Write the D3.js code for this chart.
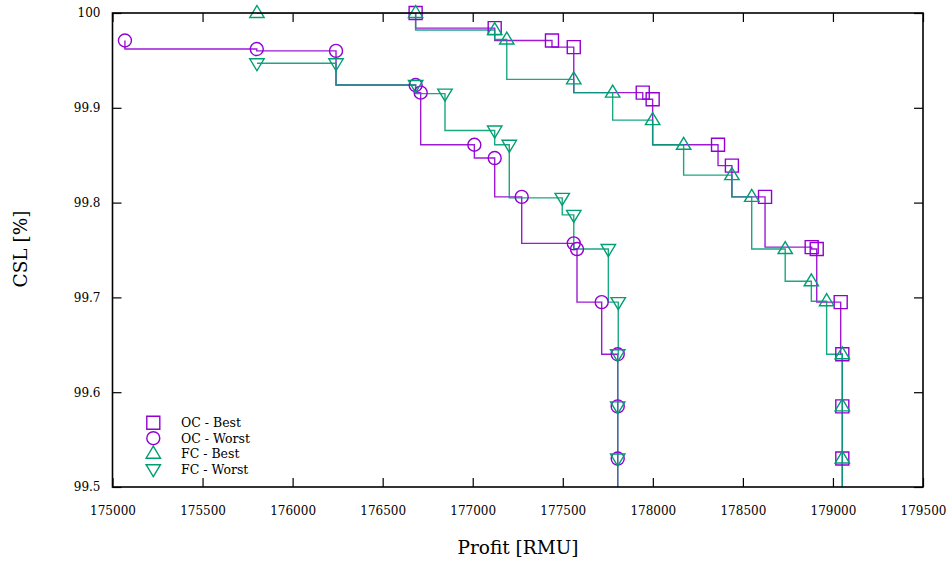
<!DOCTYPE html>
<html>
<head>
<meta charset="utf-8">
<script src="https://cdn.jsdelivr.net/npm/d3@7"></script>
<style>
  html, body { margin: 0; padding: 0; background: #fff; }
  svg text { font-family: "DejaVu Serif", "Liberation Serif", serif; fill: #000; }
</style>
</head>
<body>
<svg id="chart" width="952" height="563"></svg>
<script>
// Pareto fronts: profit vs. cycle service level
const ocBestProfit  = [176683, 177122, 177440, 177561, 177944, 177999, 178362, 178439, 178623, 178882, 178910, 179043, 179052, 179052, 179052, 179052];
const ocBestCSL     = [100.0, 99.984, 99.971, 99.964, 99.916, 99.909, 99.861, 99.839, 99.806, 99.753, 99.751, 99.695, 99.640, 99.585, 99.530, 99.475];

const ocWorstProfit = [175069, 175801, 176241, 176683, 176711, 177009, 177122, 177272, 177561, 177579, 177716, 177805, 177805, 177805, 177805];
const ocWorstCSL    = [99.971, 99.962, 99.960, 99.924, 99.916, 99.861, 99.847, 99.806, 99.757, 99.751, 99.695, 99.640, 99.585, 99.530, 99.475];

const fcBestProfit  = [175802, 176683, 177122, 177189, 177561, 177777, 177999, 178171, 178439, 178549, 178735, 178880, 178965, 179052, 179052, 179052, 179052];
const fcBestCSL     = [100.0, 100.0, 99.982, 99.972, 99.930, 99.916, 99.887, 99.861, 99.829, 99.806, 99.751, 99.717, 99.696, 99.640, 99.585, 99.530, 99.475];

const fcWorstProfit = [175802, 176241, 176683, 176846, 177122, 177203, 177497, 177561, 177753, 177808, 177805, 177805, 177805, 177805];
const fcWorstCSL    = [99.947, 99.947, 99.924, 99.915, 99.876, 99.861, 99.805, 99.787, 99.751, 99.695, 99.640, 99.585, 99.530, 99.475];

const xTicks = [175000, 175500, 176000, 176500, 177000, 177500, 178000, 178500, 179000, 179500];
const yTicks = [99.5, 99.6, 99.7, 99.8, 99.9, 100];
const yTickLabels = ["99.5", "99.6", "99.7", "99.8", "99.9", "100"];

const seriesNames = ["OC - Best", "OC - Worst", "FC - Best", "FC - Worst"];
const purple = "#9400d3", green = "#009e73";

const series = [
  { name: seriesNames[0], xs: ocBestProfit,  ys: ocBestCSL,  color: purple, marker: "square" },
  { name: seriesNames[1], xs: ocWorstProfit, ys: ocWorstCSL, color: purple, marker: "circle" },
  { name: seriesNames[2], xs: fcBestProfit,  ys: fcBestCSL,  color: green,  marker: "up" },
  { name: seriesNames[3], xs: fcWorstProfit, ys: fcWorstCSL, color: green,  marker: "down" }
];

const svg = d3.select("#chart");
const m = { left: 112.5, right: 952 - 923, top: 13, bottom: 563 - 487 };
const W = 952, H = 563;

const x = d3.scaleLinear().domain([175000, 179500]).range([m.left, W - m.right]);
const y = d3.scaleLinear().domain([99.5, 100]).range([H - m.bottom, m.top]);

svg.append("defs").append("clipPath").attr("id", "plotClip")
  .append("rect")
  .attr("x", x.range()[0]).attr("y", y.range()[1])
  .attr("width", x.range()[1] - x.range()[0])
  .attr("height", y.range()[0] - y.range()[1]);

// Axes with inward ticks, mirrored on the opposite sides
const tickLen = 9;
const axBottom = d3.axisBottom(x).tickValues(xTicks).tickSizeInner(-tickLen).tickSizeOuter(0).tickPadding(19).tickFormat(d3.format("d"));
const axTop = d3.axisTop(x).tickValues(xTicks).tickSizeInner(-tickLen).tickSizeOuter(0).tickFormat("");
const axLeft = d3.axisLeft(y).tickValues(yTicks).tickSizeInner(-tickLen).tickSizeOuter(0).tickPadding(12)
  .tickFormat((d, i) => yTickLabels[i]);
const axRight = d3.axisRight(y).tickValues(yTicks).tickSizeInner(-tickLen).tickSizeOuter(0).tickFormat("");

function styleAxis(g) {
  g.select(".domain").remove();
  g.selectAll(".tick line").attr("stroke", "#000").attr("stroke-width", 1.2);
  g.selectAll(".tick text").attr("font-size", 12).attr("font-family", "'DejaVu Serif', serif");
}
svg.append("g").attr("transform", `translate(0,${y.range()[0]})`).call(axBottom).call(styleAxis);
svg.append("g").attr("transform", `translate(0,${y.range()[1]})`).call(axTop).call(styleAxis);
svg.append("g").attr("transform", `translate(${x.range()[0]},0)`).call(axLeft).call(styleAxis);
svg.append("g").attr("transform", `translate(${x.range()[1]},0)`).call(axRight).call(styleAxis);

// Step lines (vertical first, then horizontal)
const line = d3.line().x(d => x(d[0])).y(d => y(d[1])).curve(d3.curveStepBefore);
const plot = svg.append("g").attr("clip-path", "url(#plotClip)");
series.forEach(s => {
  const pts = s.xs.map((v, i) => [v, s.ys[i]]);
  plot.append("path").datum(pts)
    .attr("d", line)
    .attr("fill", "none")
    .attr("stroke", s.color)
    .attr("stroke-width", 1.4)
    .attr("stroke-opacity", 0.9);
});

// Point markers
function markerPath(kind, cx, cy) {
  const r = 6.5;
  if (kind === "square") return `M${cx - r},${cy - r}h${2 * r}v${2 * r}h${-2 * r}Z`;
  if (kind === "circle") return `M${cx - r},${cy}a${r},${r} 0 1,0 ${2 * r},0a${r},${r} 0 1,0 ${-2 * r},0Z`;
  if (kind === "up") return `M${cx},${cy - 7.5}L${cx + 7.2},${cy + 4.5}L${cx - 7.2},${cy + 4.5}Z`;
  return `M${cx},${cy + 7.5}L${cx + 7.2},${cy - 4.5}L${cx - 7.2},${cy - 4.5}Z`;
}
series.forEach(s => {
  const pts = s.xs.map((v, i) => [v, s.ys[i]]).filter(p => p[1] >= y.domain()[0]);
  svg.append("g").selectAll("path").data(pts).join("path")
    .attr("d", p => markerPath(s.marker, x(p[0]), y(p[1])))
    .attr("fill", "none")
    .attr("stroke", s.color)
    .attr("stroke-width", 1.4);
});

// Frame
svg.append("rect")
  .attr("x", x.range()[0]).attr("y", y.range()[1])
  .attr("width", x.range()[1] - x.range()[0])
  .attr("height", y.range()[0] - y.range()[1])
  .attr("fill", "none").attr("stroke", "#000").attr("stroke-width", 1.6);

// Legend
const legend = svg.append("g");
series.forEach((s, i) => {
  const ly = 422.7 + i * 15.5;
  legend.append("path").attr("d", markerPath(s.marker, 153.3, ly))
    .attr("fill", "none").attr("stroke", s.color).attr("stroke-width", 1.4);
  legend.append("text").attr("x", 181).attr("y", ly + 4.5)
    .attr("font-size", 12.5).text(s.name);
});

// Axis titles
svg.append("text").attr("x", 518).attr("y", 554)
  .attr("text-anchor", "middle").attr("font-size", 18.5).text("Profit [RMU]");
svg.append("text").attr("transform", "translate(27,249) rotate(-90)")
  .attr("text-anchor", "middle").attr("font-size", 18.5).text("CSL [%]");
</script>
</body>
</html>
